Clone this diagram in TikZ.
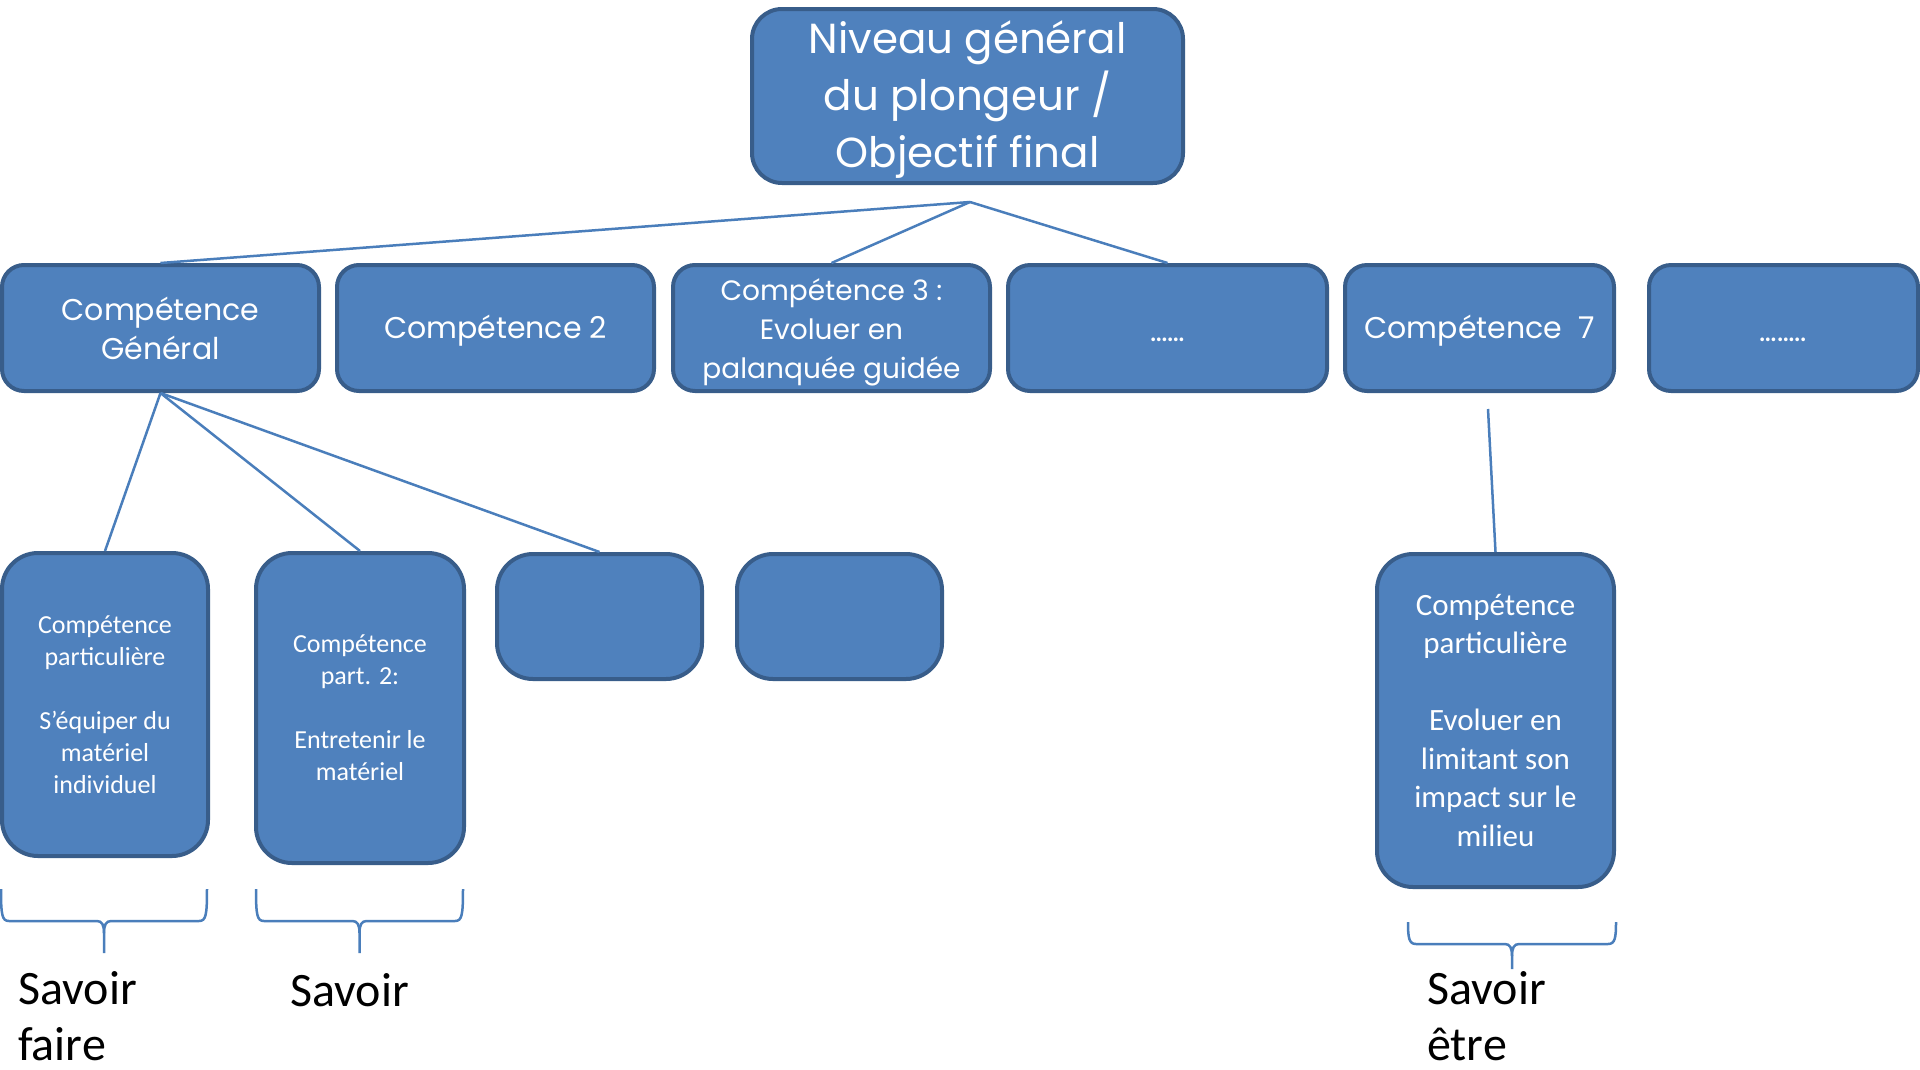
\documentclass[tikz,border=0pt]{standalone}
\usepackage{fontspec}
\setmainfont{Carlito}
\newfontfamily\comicf{Poppins}
\definecolor{boxfill}{HTML}{4F81BD}
\definecolor{boxline}{HTML}{385D8A}
\definecolor{connc}{HTML}{4A7EBB}
\tikzset{
 box/.style={draw=boxline, fill=boxfill, line width=4pt, text=white, align=center, inner sep=0pt},
 topbox/.style={box, rounded corners=30pt, minimum width=431pt, minimum height=174pt, font=\comicf\fontsize{42}{57}\selectfont},
 midbox/.style={box, rounded corners=22pt, minimum height=126pt, font=\comicf\fontsize{30}{39}\selectfont},
 lowbox/.style={box, rounded corners=36pt, font=\fontsize{26}{32}\selectfont},
 bigbox/.style={box, rounded corners=36pt, font=\fontsize{31}{38.5}\selectfont},
 conn/.style={draw=connc, line width=2.5pt},
 bracel/.style={draw=connc, line width=2.5pt},
 lbl/.style={font=\fontsize{48}{56}\selectfont, align=left, inner sep=0pt, anchor=base west}
}
\newcommand\mybrace[6]{%
 \draw[bracel] (#1,#4) .. controls (#1,#5-6) and (#1+1,#5) .. (#1+8,#5) -- (#2-7,#5) .. controls (#2-2,#5) and (#2,#5+4) .. (#2,#5+12) -- (#2,#6);
 \draw[bracel] (#3,#4) .. controls (#3,#5-6) and (#3-1,#5) .. (#3-8,#5) -- (#2+7,#5) .. controls (#2+2,#5) and (#2,#5+4) .. (#2,#5+12);
}
\begin{document}
\begin{tikzpicture}[x=1pt,y=-1pt]
\useasboundingbox (0,0) rectangle (1920,1069);
% top
\node[topbox, text height=156pt, text depth=14pt] (top) at (967.5,96) {Niveau général\\du plongeur /\\Objectif final};
% row 2
\node[midbox, minimum width=317pt, text height=69pt, text depth=7pt] (r1) at (160.5,328) {Compétence\\Général};
\node[midbox, minimum width=317pt, text height=30pt, text depth=10pt] (r2) at (495.5,328) {Compétence 2};
\node[midbox, minimum width=317pt, text height=108pt, text depth=8pt, font=\comicf\fontsize{28}{39}\selectfont] (r3) at (831.5,328) {Compétence 3 :\\Evoluer en\\palanquée guidée};
\node[midbox, minimum width=319pt, text height=30pt, text depth=4pt] (r4) at (1167.5,328) {……};
\node[midbox, minimum width=269pt, text height=30pt, text depth=10pt] (r5) at (1479.5,328) {Compétence~~7};
\node[midbox, minimum width=269pt, text height=30pt, text depth=4pt] (r6) at (1783.5,328) {……..};
% row 3
\node[lowbox, minimum width=206pt, minimum height=303pt] (c1) at (105,704.5) {Compétence\\particulière\\[32pt]S’équiper du\\matériel\\individuel};
\node[lowbox, minimum width=208pt, minimum height=310pt] (c2) at (360,708) {Compétence\\part. 2:\\[32pt]Entretenir le\\matériel};
\node[lowbox, minimum width=205pt, minimum height=125pt] (c3) at (599.5,616.5) {};
\node[lowbox, minimum width=205pt, minimum height=125pt] (c4) at (839.5,616.5) {};
\node[bigbox, minimum width=237pt, minimum height=333pt] (c5) at (1495.5,720.5) {Compétence\\particulière\\[38.5pt]Evoluer en\\limitant son\\impact sur le\\milieu};
% connectors
\coordinate (apex) at (970,202);
\coordinate (c7top) at (1488,409);
\draw[conn] (apex) -- (r1.north);
\draw[conn] (apex) -- (r3.north);
\draw[conn] (apex) -- (r4.north);
\draw[conn] (r1.south) -- (c1.north);
\draw[conn] (r1.south) -- (c2.north);
\draw[conn] (r1.south) -- (c3.north);
\draw[conn] (c7top) -- (c5.north);
% braces
\mybrace{1}{104}{207}{889}{921}{953}
\mybrace{256}{359.5}{463}{889}{921}{953}
\mybrace{1408}{1512}{1616}{922}{944}{969}
% labels
\node[lbl] (l1) at (18,1060) {Savoir\\faire};
\node[lbl] (l2) at (290,1006) {Savoir};
\node[lbl] (l3) at (1427,1060) {Savoir\\être};
\end{tikzpicture}
\end{document}
